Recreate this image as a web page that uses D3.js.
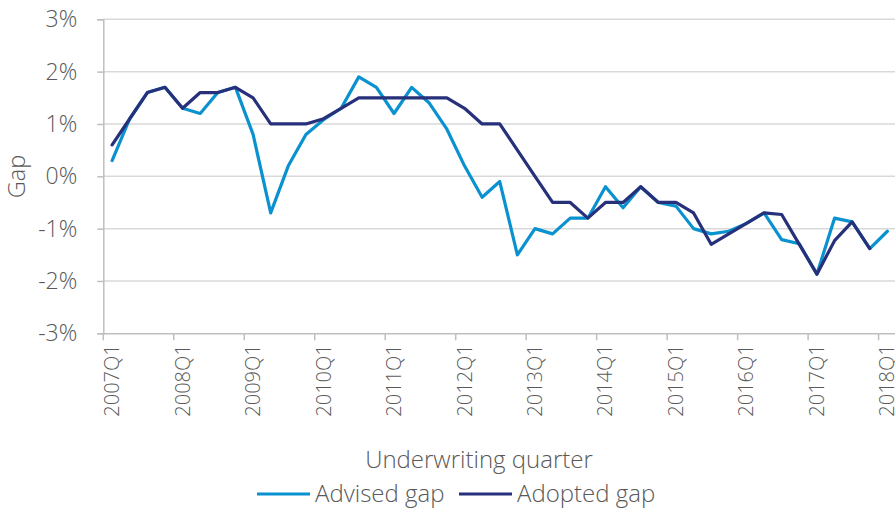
<!DOCTYPE html>
<html>
<head>
<meta charset="utf-8">
<script src="https://cdn.jsdelivr.net/npm/d3@7"></script>
<style>
  html, body { margin: 0; padding: 0; background: #fff; }
  svg { display: block; }
  text { font-family: "Open Sans", "Lato", sans-serif; font-weight: 300; fill: #595959; }
</style>
</head>
<body>
<svg id="chart" width="895" height="511"></svg>
<script>
const years = d3.range(2007, 2019);
const quarters = [];
years.forEach(y => [1,2,3,4].forEach(q => { if (!(y === 2018 && q > 1)) quarters.push(y + "Q" + q); }));

const advisedGap = [0.3, 1.1, 1.6, 1.7, 1.3, 1.2, 1.6, 1.7, 0.8, -0.7, 0.2, 0.8,
  1.08, 1.3, 1.9, 1.7, 1.2, 1.7, 1.4, 0.9, 0.2, -0.4, -0.1, -1.5,
  -1.0, -1.1, -0.8, -0.8, -0.2, -0.6, -0.2, -0.5, -0.57, -1.0, -1.1, -1.05,
  -0.9, -0.7, -1.21, -1.29, -1.87, -0.8, -0.87, -1.38, -1.05];
const adoptedGap = [0.6, 1.1, 1.6, 1.7, 1.3, 1.6, 1.6, 1.7, 1.5, 1.0, 1.0, 1.0,
  1.1, 1.3, 1.5, 1.5, 1.5, 1.5, 1.5, 1.5, 1.3, 1.0, 1.0, 0.5,
  0.0, -0.5, -0.5, -0.8, -0.5, -0.5, -0.2, -0.5, -0.5, -0.7, -1.3, -1.1,
  -0.9, -0.7, -0.73, -1.3, -1.87, -1.23, -0.87, -1.38];
const yTicks = [-3, -2, -1, 0, 1, 2, 3];
const seriesNames = ["Advised gap", "Adopted gap"];
const seriesColors = ["#0a91cf", "#27307a"];

const svg = d3.select("#chart");
const x0 = 103.3, qw = 17.62;
const x = d3.scaleBand().domain(quarters).range([x0, x0 + quarters.length * qw]).padding(0);
const y = d3.scaleLinear().domain([-3, 3]).range([333.3, 19.3]);
const bw = x.bandwidth();

// gridlines
svg.append("g").selectAll("line").data(yTicks.filter(t => t > -3)).join("line")
  .attr("x1", x0).attr("x2", 895)
  .attr("y1", d => y(d)).attr("y2", d => y(d))
  .attr("stroke", "#d9d9d9").attr("stroke-width", 1.5);

// y axis
const yAxis = svg.append("g").attr("transform", `translate(${x0},0)`)
  .call(d3.axisLeft(y).tickValues(yTicks).tickSize(6).tickPadding(20).tickFormat(d => d + "%"));
yAxis.select(".domain").attr("stroke", "#bfbfbf").attr("stroke-width", 1.5);
yAxis.selectAll(".tick line").attr("stroke", "#bfbfbf").attr("stroke-width", 1.5);
yAxis.selectAll(".tick text").attr("font-size", 23).attr("fill", "#595959")
  .style("font-family", '"Open Sans", sans-serif').style("font-weight", 300);

// x axis
const labelQs = quarters.filter(q => q.endsWith("Q1"));
const xAxis = svg.append("g").attr("transform", `translate(0,${y(-3)})`)
  .call(d3.axisBottom(x).tickValues(labelQs).tickSize(7).tickPadding(0));
xAxis.select(".domain").attr("stroke", "#bfbfbf").attr("stroke-width", 1.5).attr("d", `M${x0},0.5H895`);
xAxis.selectAll(".tick line").attr("stroke", "#bfbfbf").attr("stroke-width", 1.5)
  .attr("x1", -bw / 2).attr("x2", -bw / 2);
xAxis.selectAll(".tick text")
  .attr("font-size", 20).attr("fill", "#595959")
  .style("font-family", '"Open Sans", sans-serif').style("font-weight", 300)
  .attr("text-anchor", "end")
  .attr("transform", "rotate(-90)")
  .attr("x", -11).attr("y", 0).attr("dy", "0.35em");

// lines
const line = d3.line().x((d, i) => x(quarters[i]) + bw / 2).y(d => y(d));
[advisedGap, adoptedGap].forEach((s, k) => {
  svg.append("path").datum(s).attr("d", line)
    .attr("fill", "none").attr("stroke", seriesColors[k]).attr("stroke-width", 3.2)
    .attr("stroke-linejoin", "round").attr("stroke-linecap", "round");
});

// axis titles
svg.append("text").attr("transform", `translate(25,176.5) rotate(-90)`)
  .attr("text-anchor", "middle").attr("font-size", 23.5).text("Gap");
svg.append("text").attr("x", 479).attr("y", 468)
  .attr("text-anchor", "middle").attr("font-size", 24).text("Underwriting quarter");

// legend
const legendX = [257, 459];
seriesNames.forEach((n, k) => {
  const g = svg.append("g").attr("transform", `translate(${legendX[k]},494)`);
  g.append("line").attr("x1", 0).attr("x2", 53).attr("y1", 0).attr("y2", 0)
    .attr("stroke", seriesColors[k]).attr("stroke-width", 3.2);
  g.append("text").attr("x", 58).attr("y", 0).attr("dy", "0.35em")
    .attr("font-size", 24).text(n);
});
</script>
</body>
</html>
